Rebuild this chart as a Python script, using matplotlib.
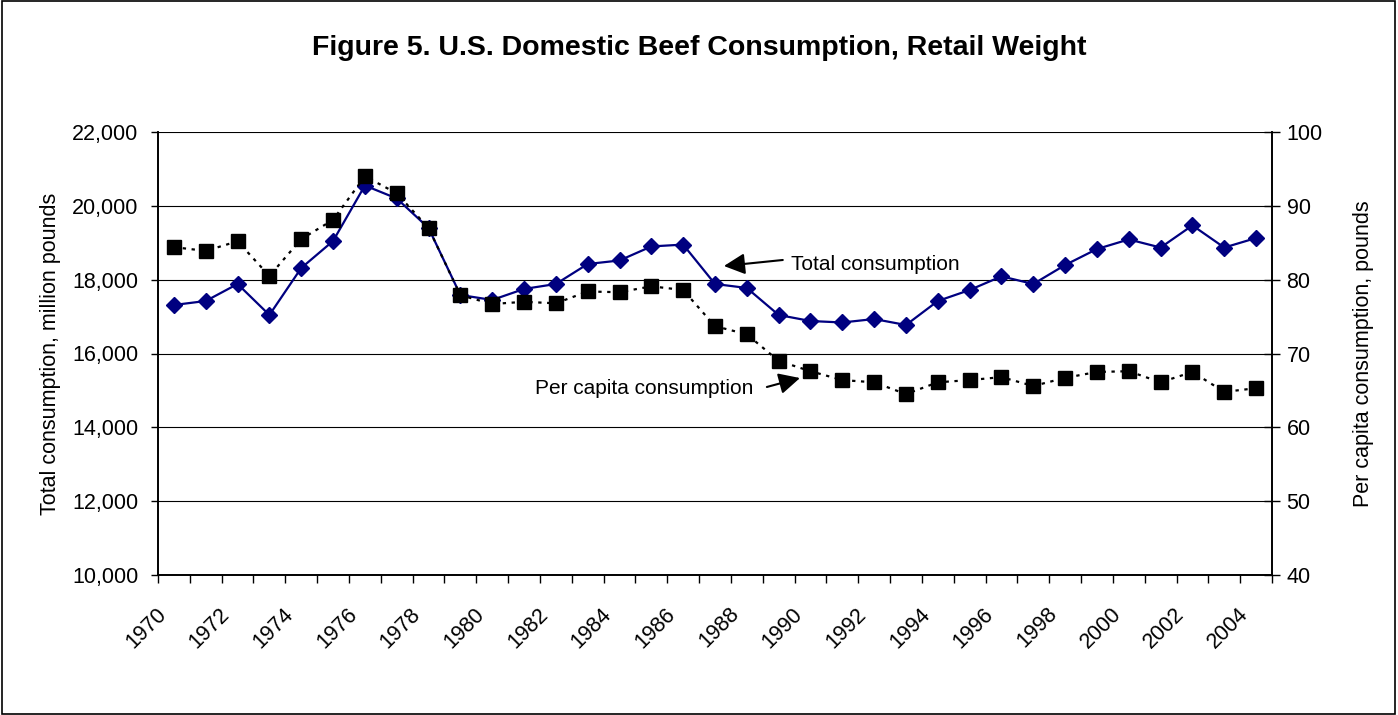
import matplotlib
matplotlib.use("Agg")
import matplotlib.pyplot as plt
from matplotlib.transforms import ScaledTranslation
from matplotlib.patches import Rectangle
from matplotlib.ticker import FuncFormatter

plt.rcParams['font.family'] = ['Liberation Sans', 'DejaVu Sans']

years = list(range(1970, 2005))
total_consumption = [17314, 17422, 17883, 17043, 18316, 19047, 20550, 20200, 19400, 17585,
                     17450, 17748, 17883, 18424, 18520, 18900, 18950, 17883, 17775, 17043,
                     16880, 16840, 16934, 16772, 17422, 17720, 18090, 17883, 18397, 18830,
                     19090, 18870, 19470, 18870, 19128]
per_capita = [84.4, 83.9, 85.2, 80.5, 85.5, 88.1, 94.0, 91.7, 87.0, 77.9,
              76.7, 77.0, 76.8, 78.4, 78.3, 79.1, 78.6, 73.7, 72.6, 69.0,
              67.6, 66.4, 66.1, 64.5, 66.1, 66.4, 66.8, 65.6, 66.7, 67.5,
              67.6, 66.1, 67.5, 64.8, 65.3]
year_labels = [str(y) for y in years if y % 2 == 0]

title = "Figure 5. U.S. Domestic Beef Consumption, Retail Weight"

fig = plt.figure(figsize=(13.98, 7.15), dpi=100)
fig.patches.append(Rectangle((0.0015, 0.002), 0.9965, 0.996, transform=fig.transFigure,
                             fill=False, edgecolor='black', linewidth=1.2))

ax = fig.add_axes([158/1398, 1-575/715, (1272-158)/1398, (575-132)/715])
ax2 = ax.twinx()

x = list(range(len(years)))
ax.plot(x, total_consumption, color='#000080', linewidth=1.6, marker='D',
        markersize=8, markerfacecolor='#000080', markeredgecolor='#000080', zorder=3)
ax2.plot(x, per_capita, color='black', linewidth=1.6, linestyle=(0, (1.5, 2.5)),
         marker='s', markersize=9.5, markerfacecolor='black', markeredgecolor='black', zorder=3)

ax.set_xlim(-0.5, len(years) - 0.5)
ax.set_ylim(10000, 22000)
ax2.set_ylim(40, 100)
ax.set_yticks(range(10000, 22001, 2000))
ax2.set_yticks(range(40, 101, 10))
ax.yaxis.set_major_formatter(FuncFormatter(lambda v, p: f"{int(v):,}"))

ax.grid(axis='y', color='black', linewidth=0.8)
ax.set_axisbelow(True)

FS = 15.5

# category boundaries as major ticks, labels on every other category center
ax.set_xticks([i - 0.5 for i in range(len(years) + 1)])
ax.set_xticklabels([])
even_pos = [i for i, y in enumerate(years) if y % 2 == 0]
ax.set_xticks(even_pos, minor=True)
ax.set_xticklabels(year_labels, minor=True, rotation=45, ha='right', va='center',
                   rotation_mode='anchor', fontsize=FS)
ax.tick_params(axis='x', which='minor', length=0, pad=0)
ax.tick_params(axis='x', which='major', length=6, direction='out', width=1)
offset = ScaledTranslation(-0.11, -0.36, fig.dpi_scale_trans)
for lab in ax.get_xticklabels(minor=True):
    lab.set_transform(lab.get_transform() + offset)

ax.tick_params(axis='y', labelsize=FS, length=5, direction='out', width=1, pad=9)
ax2.tick_params(axis='y', labelsize=FS, length=11, direction='inout', width=1, pad=5)

for a in (ax, ax2):
    a.spines['top'].set_visible(False)
    for s in ('left', 'right', 'bottom'):
        a.spines[s].set_linewidth(1.2)

ax.set_ylabel("Total consumption, million pounds", fontsize=FS, labelpad=8)
ax2.set_ylabel("Per capita consumption, pounds", fontsize=FS, labelpad=22)

fig.text(0.5, 1 - 48/715, title, ha='center', va='center', fontsize=20.5, fontweight='bold')

ax2.annotate("", xy=(17.28, 18370), xytext=(19.13, 18533),
             xycoords=ax.transData, textcoords=ax.transData,
             arrowprops=dict(arrowstyle='-|>', color='black', lw=1.5, mutation_scale=32,
                             shrinkA=0, shrinkB=0))
ax2.text(19.38, 18400, "Total consumption", transform=ax.transData, fontsize=15,
         ha='left', va='center')

ax2.annotate("", xy=(19.67, 15336), xytext=(18.63, 15093),
             xycoords=ax.transData, textcoords=ax.transData,
             arrowprops=dict(arrowstyle='-|>', color='black', lw=1.5, mutation_scale=32,
                             shrinkA=0, shrinkB=0))
ax2.text(18.22, 15065, "Per capita consumption", transform=ax.transData, fontsize=15,
         ha='right', va='center')

fig.savefig("out.png", dpi=100)
